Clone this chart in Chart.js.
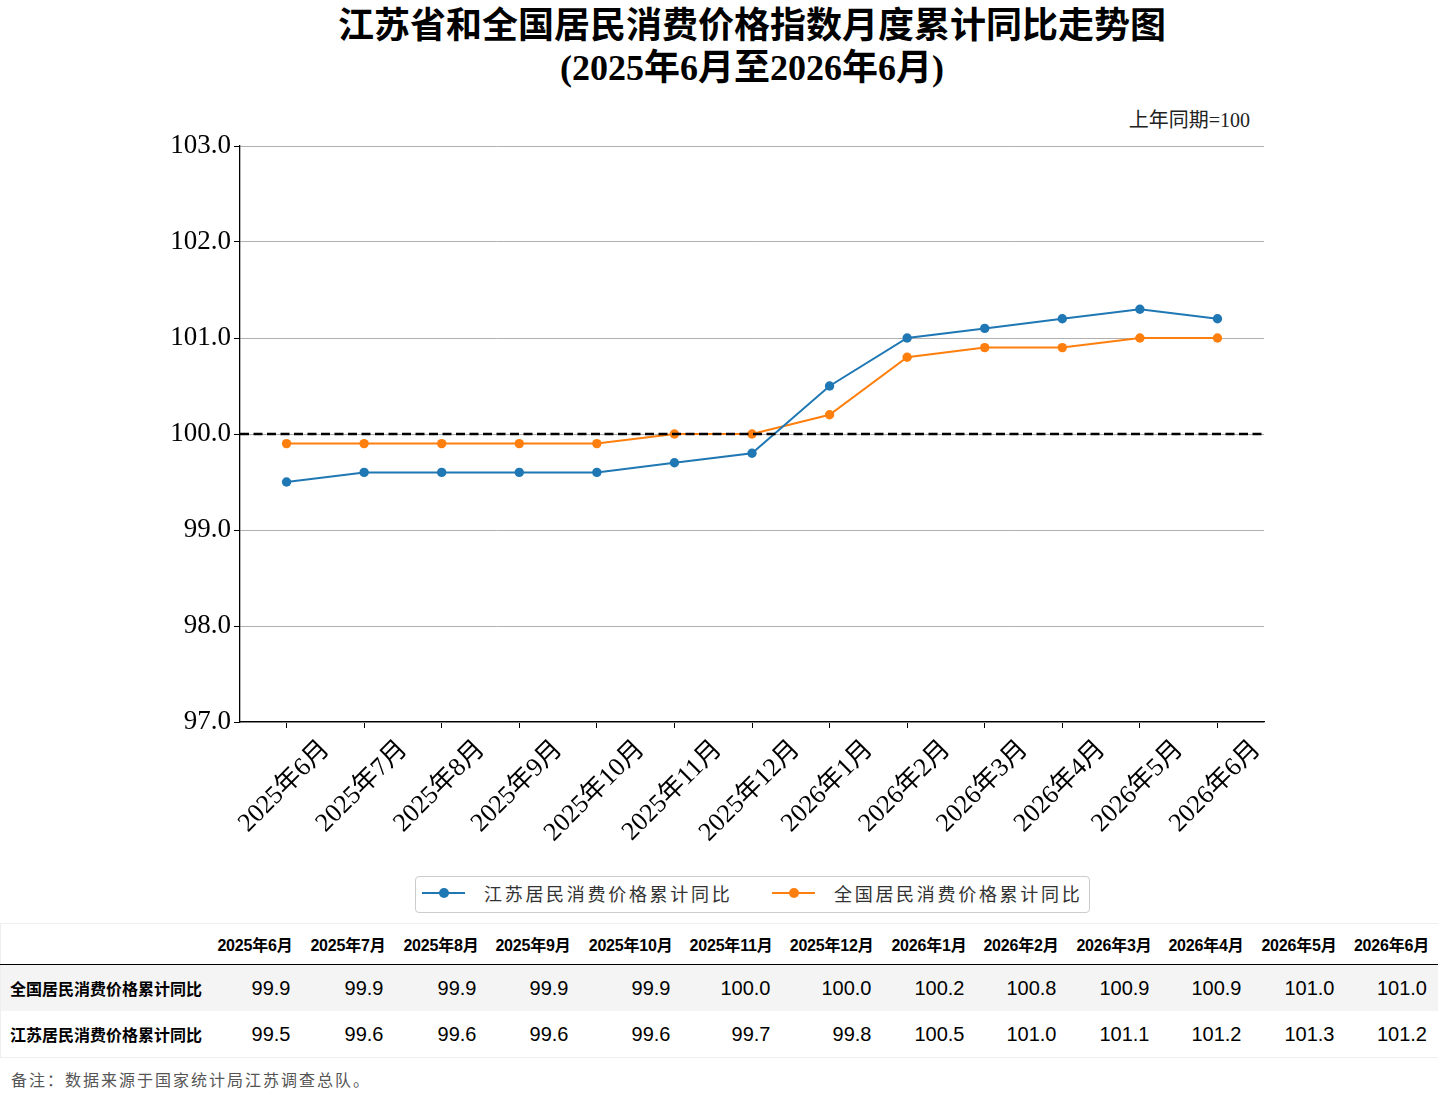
<!DOCTYPE html>
<html>
<head>
<meta charset="utf-8">
<script src="https://cdn.jsdelivr.net/npm/chart.js@4.4.1/dist/chart.umd.min.js"></script>
<style>
  body { margin: 0; background: #fff; width: 1438px; height: 1109px; position: relative; overflow: hidden; }
  #wrap { position: absolute; left: 0; top: 0; width: 1438px; height: 870px; }
  .title { position: absolute; left: 240px; width: 1024px; text-align: center; font-family: "Liberation Serif", "Noto Sans CJK SC", serif; font-weight: bold; font-size: 36px; color: #000; line-height: 40px; }
  #unit { position: absolute; right: 188px; top: 104px; font-family: "Liberation Serif", "Noto Sans CJK SC", serif; font-size: 20px; color: #222; }
  #legend { position: absolute; left: 415px; top: 876px; width: 675px; height: 37px; border: 1px solid #ccc; border-radius: 4px; box-sizing: border-box; font-family: "Noto Sans CJK SC", sans-serif; font-size: 18px; color: #333; letter-spacing: 2.7px; }
  .litem { position: absolute; top: 0; height: 35px; line-height: 33px; }
  .lline { position: absolute; top: 15px; width: 43px; height: 2px; }
  .ldot { position: absolute; top: -4px; left: 17px; width: 10px; height: 10px; border-radius: 5px; }
  #tbl { position: absolute; left: 0; top: 923px; width: 1438px; border-collapse: collapse; table-layout: fixed; font-family: "Liberation Sans", "Noto Sans CJK SC", sans-serif; border: 1px solid #eee; }
  #tbl th, #tbl td { text-align: right; padding: 0 9px 0 0; white-space: nowrap; }
  #tbl thead th { font-weight: bold; font-size: 16px; height: 40px; border-bottom: 1px solid #000; letter-spacing: -0.2px; }
  #tbl tbody th { text-align: left; padding-left: 9px; font-size: 16px; font-weight: bold; }
  #tbl tbody td { font-size: 20px; height: 46px; padding-right: 11px; }
  #tbl tbody tr:nth-child(1) { background: #f4f4f4; }
  #note { position: absolute; left: 11px; top: 1067px; font-family: "Noto Sans CJK SC", sans-serif; font-size: 16px; color: #555; letter-spacing: 2px; }
</style>
</head>
<body>
<div class="title" style="top:6px">江苏省和全国居民消费价格指数月度累计同比走势图</div>
<div class="title" style="top:48px">(2025年6月至2026年6月)</div>
<div id="unit">上年同期=100</div>
<div id="wrap"><canvas id="chart" width="1438" height="870"></canvas></div>
<div id="legend"></div>
<table id="tbl"></table>
<div id="note">备注：数据来源于国家统计局江苏调查总队。</div>

<script>
const months = ['2025年6月', '2025年7月', '2025年8月', '2025年9月', '2025年10月', '2025年11月', '2025年12月',
                '2026年1月', '2026年2月', '2026年3月', '2026年4月', '2026年5月', '2026年6月'];
const jiangsuValues = [99.5, 99.6, 99.6, 99.6, 99.6, 99.7, 99.8, 100.5, 101.0, 101.1, 101.2, 101.3, 101.2];
const nationalValues = [99.9, 99.9, 99.9, 99.9, 99.9, 100.0, 100.0, 100.2, 100.8, 100.9, 100.9, 101.0, 101.0];
const yTicks = [97, 98, 99, 100, 101, 102, 103];
const baseLine = 100;

const seriesNames = ['江苏居民消费价格累计同比', '全国居民消费价格累计同比'];
const seriesColors = ['#1f77b4', '#ff7f0e'];

// dashed reference line at 100
const baseLinePlugin = {
  id: 'baseLine',
  afterDatasetsDraw(chart) {
    const { ctx, chartArea, scales } = chart;
    const y = scales.y.getPixelForValue(baseLine);
    ctx.save();
    ctx.strokeStyle = '#000';
    ctx.lineWidth = 2.6;
    ctx.setLineDash([9, 4.5]);
    ctx.beginPath();
    ctx.moveTo(chartArea.left, y);
    ctx.lineTo(chartArea.right, y);
    ctx.stroke();
    ctx.restore();
  }
};

// x labels rotated 45 degrees, centred under each tick (matplotlib style)
const xLabelPlugin = {
  id: 'xLabels',
  afterDraw(chart) {
    const { ctx, chartArea, scales } = chart;
    ctx.save();
    ctx.font = '26px "Liberation Serif", "Noto Sans CJK SC", serif';
    ctx.fillStyle = '#000';
    ctx.textAlign = 'center';
    ctx.textBaseline = 'middle';
    months.forEach((m, i) => {
      const x = scales.x.getPixelForValue(i);
      const w = ctx.measureText(m).width;
      const h = 26;
      const top = chartArea.bottom + 14;
      const cy = top + (w + h) * 0.3536;
      ctx.save();
      ctx.translate(x - 2, cy);
      ctx.rotate(-Math.PI / 4);
      ctx.fillText(m, 0, 0);
      ctx.restore();
    });
    ctx.restore();
  }
};

const ctx = document.getElementById('chart').getContext('2d');
new Chart(ctx, {
  type: 'line',
  data: {
    datasets: [
      {
        label: seriesNames[0],
        data: jiangsuValues.map((v, i) => ({ x: i, y: v })),
        borderColor: seriesColors[0],
        backgroundColor: seriesColors[0],
        borderWidth: 2,
        pointRadius: 4.7,
        pointBorderWidth: 0,
        pointHoverRadius: 4.7
      },
      {
        label: seriesNames[1],
        data: nationalValues.map((v, i) => ({ x: i, y: v })),
        borderColor: seriesColors[1],
        backgroundColor: seriesColors[1],
        borderWidth: 2,
        pointRadius: 4.7,
        pointBorderWidth: 0,
        pointHoverRadius: 4.7
      }
    ]
  },
  options: {
    responsive: false,
    animation: false,
    layout: { padding: { left: 0, right: 174, top: 146, bottom: 0 } },
    plugins: {
      legend: { display: false },
      title: { display: false },
      tooltip: { enabled: false }
    },
    scales: {
      x: {
        type: 'linear',
        min: -0.6,
        max: 12.6,
        afterBuildTicks: (scale) => { scale.ticks = months.map((m, i) => ({ value: i })); },
        afterFit: (scale) => { scale.height = 148; },
        ticks: { display: false, autoSkip: false },
        grid: { drawOnChartArea: false, drawTicks: true, tickLength: 6, tickColor: '#000', tickWidth: 1 },
        border: { color: '#000', width: 1.3 }
      },
      y: {
        min: yTicks[0],
        max: yTicks[yTicks.length - 1],
        afterBuildTicks: (scale) => { scale.ticks = yTicks.map(v => ({ value: v })); },
        afterFit: (scale) => { scale.width = 240; },
        ticks: {
          color: '#000',
          padding: 3,
          font: { family: '"Liberation Serif", serif', size: 27 },
          callback: (v) => Number(v).toFixed(1)
        },
        grid: { color: '#b0b0b0', lineWidth: 1, tickLength: 6, tickColor: '#000', tickWidth: 1 },
        border: { color: '#000', width: 1.3 }
      }
    }
  },
  plugins: [baseLinePlugin, xLabelPlugin]
});

// legend
const legend = document.getElementById('legend');
const legendLefts = [6, 356];
seriesNames.forEach((name, i) => {
  const item = document.createElement('div');
  item.className = 'litem';
  item.style.left = legendLefts[i] + 'px';
  item.innerHTML = `<span class="lline" style="left:0;background:${seriesColors[i]}"><span class="ldot" style="background:${seriesColors[i]}"></span></span>` +
                   `<span style="position:absolute;left:62px;white-space:nowrap">${name}</span>`;
  legend.appendChild(item);
});

// data table
const tbl = document.getElementById('tbl');
const colWidths = [208, 93, 93, 93, 92, 102, 100, 101, 93, 92, 93, 92, 93, 93];
let html = '<colgroup>' + colWidths.map(w => `<col style="width:${w}px">`).join('') + '</colgroup>';
html += '<thead><tr><th></th>' + months.map(m => `<th>${m}</th>`).join('') + '</tr></thead>';
html += '<tbody>';
html += '<tr><th>全国居民消费价格累计同比</th>' + nationalValues.map(v => `<td>${v.toFixed(1)}</td>`).join('') + '</tr>';
html += '<tr><th>江苏居民消费价格累计同比</th>' + jiangsuValues.map(v => `<td>${v.toFixed(1)}</td>`).join('') + '</tr>';
html += '</tbody>';
tbl.innerHTML = html;
</script>
</body>
</html>
